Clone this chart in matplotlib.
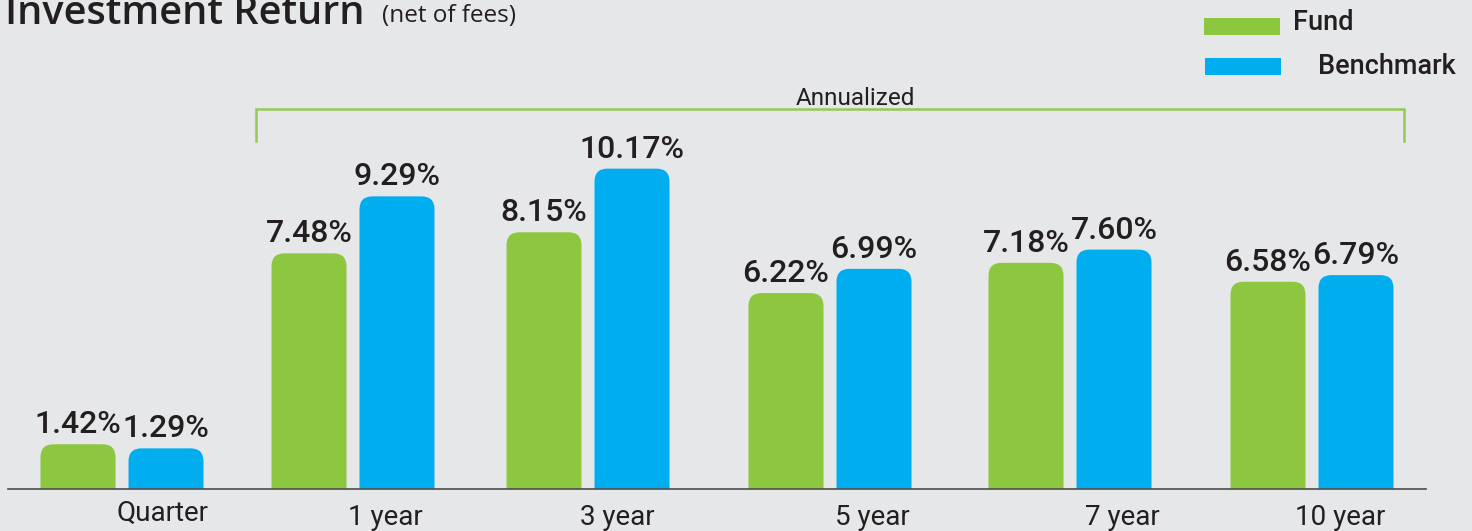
import matplotlib.pyplot as plt
import numpy as np
from matplotlib.patches import FancyBboxPatch, Rectangle

plt.rcParams['font.family'] = ['Roboto', 'DejaVu Sans']

# data
periods = ['Quarter', '1 year', '3 year', '5 year', '7 year', '10 year']
fund = [1.42, 7.48, 8.15, 6.22, 7.18, 6.58]
benchmark = [1.29, 9.29, 10.17, 6.99, 7.60, 6.79]

GREEN = '#8dc63f'
BLUE = '#00adef'
BG = '#e6e7e9'
TXT = '#231f20'

W, H = 1472, 531
fig = plt.figure(figsize=(W / 100, H / 100), dpi=100, facecolor=BG)
ax = fig.add_axes([0, 0, 1, 1])
ax.set_facecolor(BG)
ax.axis('off')

# layout (pixels across, % up)
scale = 31.5          # px per percentage point
base = 42             # baseline px from bottom
ax.set_xlim(0, W)
ax.set_ylim(-base / scale, (H - base) / scale)

group_x = np.array([122, 353, 588, 830, 1070, 1312])
label_x = [162, 385, 617, 872, 1122, 1340]
label_y = [-0.78, -0.9, -0.9, -0.9, -0.9, -0.9]
off = 44
bw = 75
r = 13

clip = Rectangle((0, 0), W, 20, transform=ax.transData)


def rbar(x, v, color):
    p = FancyBboxPatch((x - bw / 2, -1), bw, v + 1,
                       boxstyle='round,pad=0,rounding_size=%d' % r,
                       mutation_aspect=1 / scale,
                       fc=color, ec='none', zorder=2)
    ax.add_patch(p)
    p.set_clip_path(clip)
    ax.text(x, v + 5 / scale, '%.2f%%' % v, ha='center', va='bottom',
            fontsize=23, fontweight='medium', color=TXT, zorder=3)


for i in range(len(periods)):
    rbar(group_x[i] - off, fund[i], GREEN)
    rbar(group_x[i] + off, benchmark[i], BLUE)
    ax.text(label_x[i], label_y[i], periods[i], ha='center', va='center',
            fontsize=20, color=TXT)

# baseline
ax.plot([8, 1426], [0, 0], color='#4d4d4d', lw=1.2, zorder=4)

# annualized bracket
top = (489 - 109) / scale
bot = (489 - 141) / scale
ax.plot([256, 256, 1404, 1404], [bot, top, top, bot], color='#94c954', lw=1.8,
        solid_joinstyle='miter')
ax.text(855, top + 4 / scale, 'Annualized', ha='center', va='baseline',
        fontsize=17.5, color=TXT)


# title and legend (figure pixels from top)
def fy(y):
    return (H - y) / H


fig.text(5 / W, fy(24), 'Investment Return', ha='left', va='baseline',
         fontsize=28.5, fontweight='semibold', family=['Open Sans', 'DejaVu Sans'], color=TXT)
fig.text(382 / W, fy(22), '(net of fees)', ha='left', va='baseline',
         fontsize=17.5, family=['Open Sans', 'DejaVu Sans'], color=TXT)

fig.patches.append(Rectangle((1204 / W, fy(35)), 76 / W, 17 / H,
                             transform=fig.transFigure, fc=GREEN, ec='none'))
fig.patches.append(Rectangle((1205 / W, fy(75)), 76 / W, 17 / H,
                             transform=fig.transFigure, fc=BLUE, ec='none'))
fig.text(1293 / W, fy(23), 'Fund', ha='left', va='center', fontsize=19.5,
         fontweight='medium', color=TXT)
fig.text(1318 / W, fy(67), 'Benchmark', ha='left', va='center', fontsize=19.5,
         fontweight='medium', color=TXT)

fig.savefig('out.png', dpi=100, facecolor=BG)
